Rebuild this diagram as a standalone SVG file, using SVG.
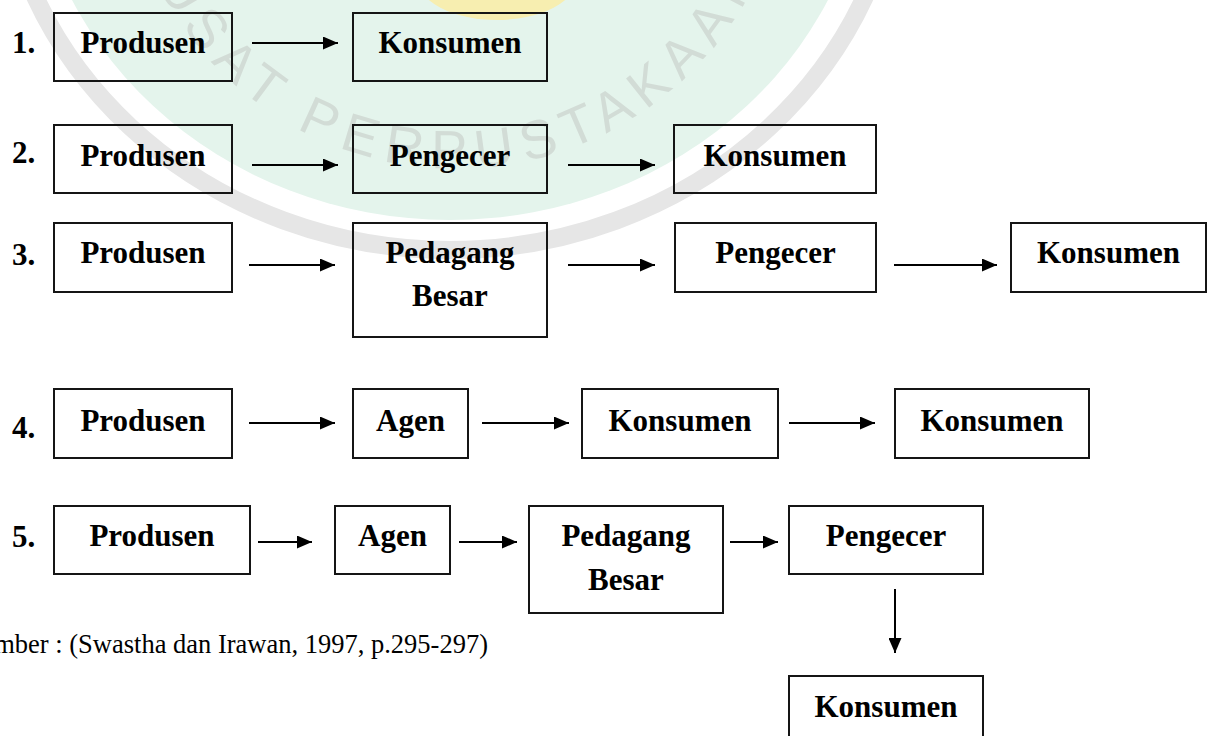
<svg xmlns="http://www.w3.org/2000/svg" width="1213" height="736" viewBox="0 0 1213 736">
<style>
.box{fill:none;stroke:#151515;stroke-width:2}
.lbl{font-family:"Liberation Serif","Times New Roman",serif;font-weight:bold;font-size:31px;fill:#000;text-anchor:middle}
.num{font-family:"Liberation Serif","Times New Roman",serif;font-weight:bold;font-size:31px;fill:#000}
.cap{font-family:"Liberation Serif","Times New Roman",serif;font-size:26.5px;fill:#000;text-anchor:end}
.conn line{stroke:#000;stroke-width:2;marker-end:url(#ah)}
.wm{font-family:"Liberation Sans",Arial,sans-serif;font-size:54px;fill:#d2dcd6;letter-spacing:10px;text-anchor:middle}
</style>
<defs>
<marker id="ah" markerUnits="userSpaceOnUse" markerWidth="15" markerHeight="13" refX="15" refY="6.5" orient="auto">
<path d="M0,0 L15,6.5 L0,13 z" fill="#000"/>
</marker>
<path id="wmarc" d="M127,-108 A334,334 0 0 0 785,-108"/>
</defs>
<rect width="1213" height="736" fill="#fff"/>
<g id="watermark">
<ellipse cx="450" cy="-170" rx="420" ry="390" fill="#e4f4ec"/>
<ellipse cx="450" cy="-170" rx="452" ry="420" fill="none" stroke="#e6e6e6" stroke-width="18"/>
<ellipse cx="497" cy="-22" rx="80" ry="42" fill="#f7eeb0"/>
<text class="wm"><textPath href="#wmarc" startOffset="48.5%">PUSAT PERPUSTAKAAN</textPath></text>
</g>
<g id="row-numbers">
<text class="num" x="12" y="53">1.</text>
<text class="num" x="12" y="163">2.</text>
<text class="num" x="12" y="265">3.</text>
<text class="num" x="12" y="438">4.</text>
<text class="num" x="12" y="547">5.</text>
</g>
<g id="r1-produsen"><rect class="box" x="54" y="13" width="178" height="68"/><text class="lbl" x="143" y="53">Produsen</text></g>
<g id="r1-konsumen"><rect class="box" x="353" y="13" width="194" height="68"/><text class="lbl" x="450" y="53">Konsumen</text></g>
<g id="r2-produsen"><rect class="box" x="54" y="125" width="178" height="68"/><text class="lbl" x="143" y="166">Produsen</text></g>
<g id="r2-pengecer"><rect class="box" x="353" y="125" width="194" height="68"/><text class="lbl" x="450" y="166">Pengecer</text></g>
<g id="r2-konsumen"><rect class="box" x="674" y="125" width="202" height="68"/><text class="lbl" x="775" y="166">Konsumen</text></g>
<g id="r3-produsen"><rect class="box" x="54" y="223" width="178" height="69"/><text class="lbl" x="143" y="263">Produsen</text></g>
<g id="r3-pedagang"><rect class="box" x="353" y="223" width="194" height="114"/><text class="lbl" x="450" y="263">Pedagang</text><text class="lbl" x="450" y="306">Besar</text></g>
<g id="r3-pengecer"><rect class="box" x="675" y="223" width="201" height="69"/><text class="lbl" x="775.5" y="263">Pengecer</text></g>
<g id="r3-konsumen"><rect class="box" x="1011" y="223" width="195" height="69"/><text class="lbl" x="1108.5" y="263">Konsumen</text></g>
<g id="r4-produsen"><rect class="box" x="54" y="389" width="178" height="69"/><text class="lbl" x="143" y="431">Produsen</text></g>
<g id="r4-agen"><rect class="box" x="353" y="389" width="115" height="69"/><text class="lbl" x="410.5" y="431">Agen</text></g>
<g id="r4-konsumen1"><rect class="box" x="582" y="389" width="196" height="69"/><text class="lbl" x="680" y="431">Konsumen</text></g>
<g id="r4-konsumen2"><rect class="box" x="895" y="389" width="194" height="69"/><text class="lbl" x="992" y="431">Konsumen</text></g>
<g id="r5-produsen"><rect class="box" x="54" y="506" width="196" height="68"/><text class="lbl" x="152" y="546">Produsen</text></g>
<g id="r5-agen"><rect class="box" x="335" y="506" width="115" height="68"/><text class="lbl" x="392.5" y="546">Agen</text></g>
<g id="r5-pedagang"><rect class="box" x="529" y="506" width="194" height="107"/><text class="lbl" x="626" y="546">Pedagang</text><text class="lbl" x="626" y="590">Besar</text></g>
<g id="r5-pengecer"><rect class="box" x="789" y="506" width="194" height="68"/><text class="lbl" x="886" y="546">Pengecer</text></g>
<g id="r5-konsumen"><rect class="box" x="789" y="676" width="194" height="68"/><text class="lbl" x="886" y="717">Konsumen</text></g>
<g id="connectors" class="conn">
<line x1="252" y1="43" x2="338" y2="43"/>
<line x1="252" y1="165" x2="338" y2="165"/>
<line x1="568" y1="165" x2="655" y2="165"/>
<line x1="249" y1="265" x2="335" y2="265"/>
<line x1="568" y1="265" x2="655" y2="265"/>
<line x1="894" y1="265" x2="997" y2="265"/>
<line x1="249" y1="423" x2="335" y2="423"/>
<line x1="482" y1="423" x2="569" y2="423"/>
<line x1="789" y1="423" x2="875" y2="423"/>
<line x1="258" y1="542" x2="312" y2="542"/>
<line x1="459" y1="542" x2="517" y2="542"/>
<line x1="730" y1="542" x2="778" y2="542"/>
<line x1="895" y1="589" x2="895" y2="653"/>
</g>
<text class="cap" x="488" y="653">mber : (Swastha dan Irawan, 1997, p.295-297)</text>
</svg>
